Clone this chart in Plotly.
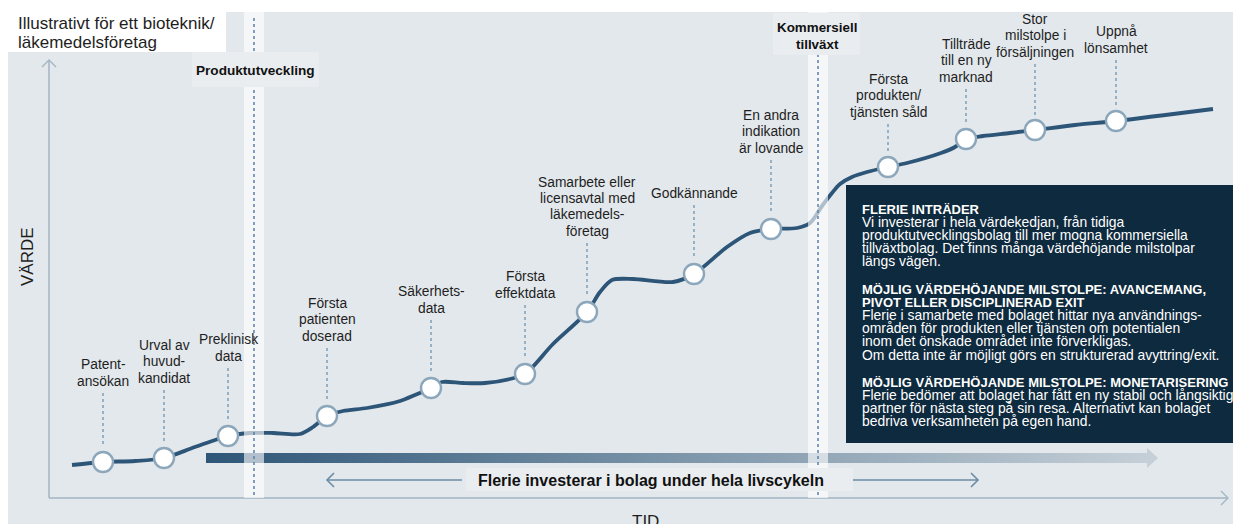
import plotly.graph_objects as go

W, H = 1241, 524

# ---------------- data (illustrative units: time, value) ----------------
curve_time = [2.3, 5.4, 8.6, 11.5, 14.6, 17.9, 20.1, 22.4, 25.1, 26.4, 27.8, 29.4, 31.8,
              35.1, 36.6, 38.2, 39.3, 41.4, 43.6, 46.1, 47.6, 50.4, 53.8, 55.1, 56.3,
              58.4, 62.4, 64.5, 67.8, 70.1, 72.2, 74.8, 76.1, 77.3, 78.3, 79.1, 80.3,
              81.8, 83.9, 85.8, 89.2, 90.6, 91.7, 93.4, 96.1, 98.6, 102.6, 106.7, 116.4]
curve_value = [3.3, 3.6, 3.7, 4.0, 5.1, 6.2, 6.5, 6.5, 6.4, 7.1, 8.2, 8.7, 9.0,
               9.7, 10.3, 11.0, 11.6, 11.5, 11.5, 11.9, 12.4, 15.4, 18.6, 20.6, 21.8,
               21.9, 21.6, 22.4, 25.1, 26.5, 26.9, 27.0, 27.5, 29.2, 30.5, 31.4, 32.1,
               32.6, 33.1, 33.5, 34.5, 35.1, 35.9, 36.2, 36.5, 36.8, 37.3, 37.7, 38.9]

milestone_labels = [
    ["Patent-", "ansökan"],
    ["Urval av", "huvud-", "kandidat"],
    ["Preklinisk", "data"],
    ["Första", "patienten", "doserad"],
    ["Säkerhets-", "data"],
    ["Första", "effektdata"],
    ["Samarbete eller", "licensavtal med", "läkemedels-", "företag"],
    ["Godkännande"],
    ["En andra", "indikation", "är lovande"],
    ["Första", "produkten/", "tjänsten såld"],
    ["Tillträde", "till en ny", "marknad"],
    ["Stor", "milstolpe i", "försäljningen"],
    ["Uppnå", "lönsamhet"],
]
milestone_time = [5.4, 11.5, 17.9, 27.8, 38.2, 47.6, 53.8, 64.5, 72.2, 83.9, 91.7, 98.6, 106.7]
milestone_value = [3.6, 4.0, 6.2, 8.2, 11.0, 12.4, 18.6, 22.4, 26.9, 33.1, 35.9, 36.8, 37.7]

phase_labels = [["Produktutveckling"], ["Kommersiell", "tillväxt"]]

title_lines = ["Illustrativt för ett bioteknik/", "läkemedelsföretag"]
y_title = "VÄRDE"
x_title = "TID"
lifecycle_text = "Flerie investerar i bolag under hela livscykeln"

info_lines = [
    ("FLERIE INTRÄDER", True),
    ("Vi investerar i hela värdekedjan, från tidiga", False),
    ("produktutvecklingsbolag till mer mogna kommersiella", False),
    ("tillväxtbolag. Det finns många värdehöjande milstolpar", False),
    ("längs vägen.", False),
    (None, False),
    ("MÖJLIG VÄRDEHÖJANDE MILSTOLPE: AVANCEMANG,", True),
    ("PIVOT ELLER DISCIPLINERAD EXIT", True),
    ("Flerie i samarbete med bolaget hittar nya användnings-", False),
    ("områden för produkten eller tjänsten om potentialen", False),
    ("inom det önskade området inte förverkligas.", False),
    ("Om detta inte är möjligt görs en strukturerad avyttring/exit.", False),
    (None, False),
    ("MÖJLIG VÄRDEHÖJANDE MILSTOLPE: MONETARISERING", True),
    ("Flerie bedömer att bolaget har fått en ny stabil och långsiktig", False),
    ("partner för nästa steg på sin resa. Alternativt kan bolaget", False),
    ("bedriva verksamheten på egen hand.", False),
]

# ---------------- layout helpers (page pixel <-> axis units) ----------------
OFF = 8                     # page margin around the figure
X0PX, Y0PX, SCALE = 49, 498, 10.0   # axis origin (page px) and px per unit
def p2t(p): return (p - X0PX) / SCALE
def p2v(p): return (Y0PX - p) / SCALE
def t2p(t): return X0PX + t * SCALE
def v2p(v): return Y0PX - v * SCALE

FONT = "Liberation Sans, Arial, Helvetica, sans-serif"
PANEL = "#E3E8EC"
LINE_C = "#2D5578"
AXIS_C = "#A2B5C3"
DOT_C = "#5B80A5"
LEAD_C = "#7F9DB6"
TXT = "#1E1E1E"

shapes = []
annotations = []

def rect(x0, y0, x1, y1, fill, layer="above"):
    shapes.append(dict(type="rect", xref="x", yref="y", x0=p2t(x0), x1=p2t(x1),
                       y0=p2v(y1), y1=p2v(y0), fillcolor=fill, line=dict(width=0), layer=layer))

def seg(x0, y0, x1, y1, color, width, dash="solid", layer="above"):
    shapes.append(dict(type="line", xref="x", yref="y", x0=p2t(x0), x1=p2t(x1),
                       y0=p2v(y0), y1=p2v(y1), line=dict(color=color, width=width, dash=dash),
                       layer=layer))

def poly(pts, color, width, layer="above"):
    path = "M " + " L ".join(f"{p2t(x)},{p2v(y)}" for x, y in pts)
    shapes.append(dict(type="path", xref="x", yref="y", path=path,
                       line=dict(color=color, width=width), layer=layer))

def text(x, y, s, size=13, color=TXT, bold=False, xanchor="center", angle=0):
    if bold:
        s = f"<b>{s}</b>"
    annotations.append(dict(x=p2t(x), y=p2v(y), xref="x", yref="y", text=s, showarrow=False,
                            xanchor=xanchor, yanchor="middle", textangle=angle,
                            font=dict(family=FONT, size=size, color=color)))

# background panel and title box
rect(8, 12, W + OFF, H + OFF, PANEL, layer="below")
rect(8, 8, 226, 52, "#FFFFFF", layer="below")
text(16, 23, title_lines[0], size=17, xanchor="left")
text(16, 42, title_lines[1], size=17, xanchor="left")

# axes
seg(49, 60, 49, 498, AXIS_C, 1.5, layer="below")
seg(49, 498, 1228, 498, AXIS_C, 1.5, layer="below")
poly([(42, 67), (49, 60), (56, 67)], AXIS_C, 1.3, layer="below")
poly([(1221, 491), (1228, 498), (1221, 505)], AXIS_C, 1.3, layer="below")
text(27, 257, y_title, size=17, angle=-90)
text(645, 521, x_title, size=17)

# phase bands (semi-transparent, above the curve)
for bx in (254, 818):
    rect(bx - 10, 12, bx + 10, 498, "rgba(255,255,255,0.62)")
    seg(bx, 18, bx, 498, DOT_C, 1.5, dash="dot")

# phase labels
rect(192, 52, 319, 87, "#E9EDF0")
text(255, 70, phase_labels[0][0], size=13.6, bold=True, color="#111")
rect(773, 13, 860, 55, "#E9EDF0")
text(817, 27, phase_labels[1][0], size=13.4, bold=True, color="#111")
text(817, 44, phase_labels[1][1], size=13.4, bold=True, color="#111")

# milestone labels + leaders
leader_top_px = [393, 390, 368, 348, 320, 305, 243, 205, 160, 124, 89, 64, 60]
LH = 16.3
for lines, t, v, top in zip(milestone_labels, milestone_time, milestone_value, leader_top_px):
    cx = t2p(t)
    cy = v2p(v)
    seg(cx, top, cx, cy - 15, LEAD_C, 1.5, dash="dot")
    n = len(lines)
    for i, ln in enumerate(lines):
        text(cx, top - 12 - (n - 1 - i) * LH, ln, size=13.8)

# info box
rect(846, 185, W + OFF + 2, 443, "#0E2A3E")
y = 209
for ln, b in info_lines:
    if ln is None:
        y += 14.5
        continue
    text(860, y, ln, size=13.0 if b else 13.9, color="#FFFFFF", bold=b, xanchor="left")
    y += 13.1

# lifecycle double arrow
LC = "#6A8BA6"
seg(327, 480, 462, 480, LC, 1.6)
seg(847, 480, 978, 480, LC, 1.6)
poly([(334, 473), (327, 480), (334, 487)], LC, 1.6)
poly([(971, 473), (978, 480), (971, 487)], LC, 1.6)
rect(466, 468, 853, 491, "#E9EDF0")
text(651, 480, lifecycle_text, size=16, bold=True, color="#111")

# ---------------- traces ----------------
fig = go.Figure()

# gradient arrow bar
bar_pts = [(206, 453), (1147, 453), (1147, 448), (1158, 458), (1147, 468), (1147, 463), (206, 463), (206, 453)]
fig.add_trace(go.Scatter(
    x=[p2t(p[0]) for p in bar_pts], y=[p2v(p[1]) for p in bar_pts],
    mode="lines", fill="toself", line=dict(width=0),
    fillgradient=dict(type="horizontal", colorscale=[[0, "#2E5678"], [0.5, "#7D96AA"], [1, "#C6D0D8"]]),
    hoverinfo="skip", showlegend=False))

# value curve
fig.add_trace(go.Scatter(
    x=curve_time, y=curve_value, mode="lines",
    line=dict(color=LINE_C, width=3.8, shape="spline", smoothing=0.8),
    hoverinfo="skip", showlegend=False))

# milestones
fig.add_trace(go.Scatter(
    x=milestone_time, y=milestone_value, mode="markers",
    marker=dict(size=20, color="#FFFFFF", line=dict(color="#8CA7BB", width=2.4)),
    text=[" ".join(l) for l in milestone_labels], hoverinfo="text", showlegend=False))

fig.update_layout(
    width=W, height=H, margin=dict(l=0, r=0, t=0, b=0), autosize=False,
    paper_bgcolor="#FFFFFF", plot_bgcolor="#FFFFFF",
    xaxis=dict(range=[p2t(OFF), p2t(W + OFF)], visible=False, fixedrange=True),
    yaxis=dict(range=[p2v(H + OFF), p2v(OFF)], visible=False, fixedrange=True),
    shapes=shapes, annotations=annotations, showlegend=False,
)

fig.write_html("out.html", config={"displayModeBar": False})
